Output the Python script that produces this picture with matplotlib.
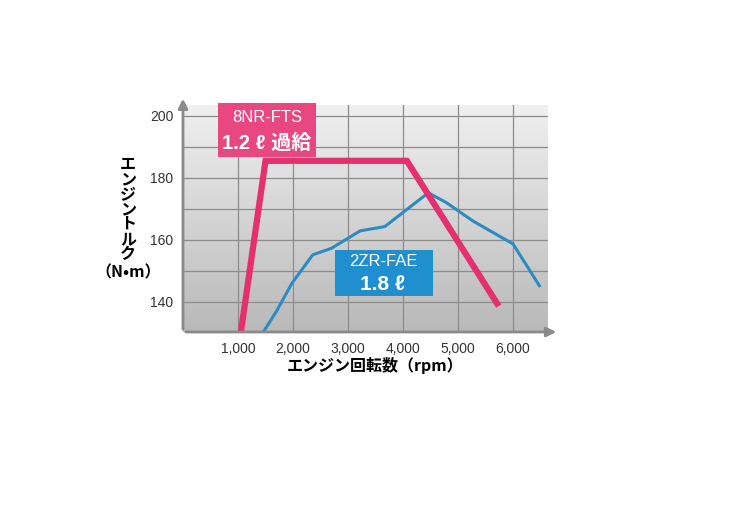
import numpy as np
import matplotlib.pyplot as plt

plt.rcParams['font.family'] = ['Liberation Sans', 'Noto Sans CJK JP', 'DejaVu Sans']

# 8NR-FTS (1.2L turbo)
rpm_8nr = [1050, 1500, 4070, 5710]
torque_8nr = [130, 185.5, 185.5, 139.5]

# 2ZR-FAE (1.8L)
rpm_2zr = [1450, 1700, 1980, 2360, 2700, 3220, 3670, 4460, 4790, 5280, 6000, 6480]
torque_2zr = [130, 137, 146, 155.2, 157.3, 162.9, 164.3, 175.2, 172, 166, 158.7, 145.2]

xticks = [1000, 2000, 3000, 4000, 5000, 6000]
xlabels = ['1,000', '2,000', '3,000', '4,000', '5,000', '6,000']
yticks = [140, 160, 180, 200]

pink = '#e5306f'
blue = '#2b8cc4'
axis_gray = '#8a8a8a'

fig = plt.figure(figsize=(7.31, 5.17), dpi=100)
ax = fig.add_axes([183/731, 1 - 332/517, (548-183)/731, (332-105)/517])
xmin, xmax = 0, 6636
ymin, ymax = 130.3, 203.5
ax.set_xlim(xmin, xmax)
ax.set_ylim(ymin, ymax)

# gradient background
grad = np.linspace(0, 1, 256).reshape(-1, 1)
cmap = plt.matplotlib.colors.LinearSegmentedColormap.from_list('bg', ['#b9b9b9', '#f0f0f0'])
ax.imshow(grad, extent=[xmin, xmax, ymin, ymax], origin='lower', aspect='auto', cmap=cmap, zorder=0)

for x in xticks:
    ax.axvline(x, color='#8c8c8c', lw=0.9, zorder=1)
for y in range(140, 210, 10):
    ax.axhline(y, color='#8c8c8c', lw=0.9, zorder=1)

ax.plot(rpm_2zr, torque_2zr, color=blue, lw=2.2, zorder=3, clip_on=True)
ax.plot(rpm_8nr, torque_8nr, color=pink, lw=4.5, zorder=4, clip_on=True, solid_joinstyle='miter')

for s in ax.spines.values():
    s.set_visible(False)
ax.set_xticks(xticks)
ax.set_xticklabels(xlabels, fontsize=10)
ax.set_yticks(yticks)
ax.set_yticklabels([str(v) for v in yticks], fontsize=10)
ax.tick_params(length=0, pad=7, colors='#333333')

# axis arrows
ax.annotate('', xy=(0, 1.04), xytext=(0, 0), xycoords='axes fraction',
            arrowprops=dict(arrowstyle='-|>', color=axis_gray, lw=2, mutation_scale=14), zorder=5)
ax.annotate('', xy=(1.03, 0), xytext=(0, 0), xycoords='axes fraction',
            arrowprops=dict(arrowstyle='-|>', color=axis_gray, lw=2, mutation_scale=14), zorder=5)

# labels
fig.text(375/731, 1 - 366/517, 'エンジン回転数（rpm）', ha='center', va='center',
         fontsize=11.5, fontweight='bold', family=['Noto Sans CJK JP', 'DejaVu Sans'])
fig.text(128/731, 1 - 209/517, '\n'.join('エンジントルク'), ha='center', va='center',
         fontsize=11.5, fontweight='bold', linespacing=0.92, family=['Noto Sans CJK JP', 'DejaVu Sans'])
fig.text(128/731, 1 - 272/517, '（N•m）', ha='center', va='center',
         fontsize=11.5, fontweight='bold', family=['Noto Sans CJK JP', 'DejaVu Sans'])

# legend boxes
fig.text(267/731, 1 - 117/517, '8NR-FTS', ha='center', va='center', color='white',
         fontsize=12, zorder=7)
fig.text(267/731, 1 - 143/517, '1.2 ℓ 過給', ha='center', va='center', color='white',
         fontsize=14.5, fontweight='bold', zorder=7, family=['Liberation Sans', 'Noto Sans CJK JP'])
fig.patches.append(plt.Rectangle((218/731, 1 - 157/517), 98/731, 54/517, transform=fig.transFigure,
                                 facecolor='#e8487f', edgecolor='none', zorder=6))

fig.text(383/731, 1 - 262/517, '2ZR-FAE', ha='center', va='center', color='white',
         fontsize=12, zorder=7)
fig.text(383/731, 1 - 285/517, '1.8 ℓ', ha='center', va='center', color='white',
         fontsize=15, fontweight='bold', zorder=7)
fig.patches.append(plt.Rectangle((335/731, 1 - 296/517), 98/731, 46/517, transform=fig.transFigure,
                                 facecolor='#1f8fcf', edgecolor='none', zorder=6))

fig.savefig('out.png', dpi=100, facecolor='white')
